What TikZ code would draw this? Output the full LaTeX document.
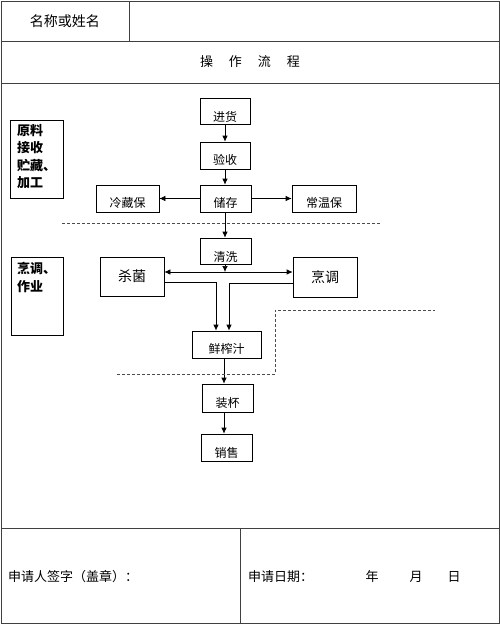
\documentclass[tikz,border=0pt]{standalone}
\usepackage{fontspec}
\setmainfont{Noto Sans CJK SC}
\usetikzlibrary{arrows.meta}
\begin{document}
\begin{tikzpicture}[x=1pt,y=-1pt,
  frame/.style={draw=black!75, line width=1pt},
  fbox/.style={draw, line width=0.7pt, inner sep=0pt},
  ftext/.style={inner sep=0pt, font=\fontsize{12}{14}\selectfont},
  big/.style={inner sep=0pt, font=\fontsize{14}{16}\selectfont},
  arr/.style={-{Latex[length=6pt,width=5.5pt]}, line width=0.7pt},
  ln/.style={line width=0.7pt},
  dash line/.style={draw=black!70, line width=0.7pt, dash pattern=on 3pt off 2pt}]
\useasboundingbox (0,0) rectangle (500,625);
% table frame
\draw[frame] (1,1) rectangle (499,623);
\draw[frame] (1,41) -- (499,41);
\draw[frame] (1,83) -- (499,83);
\draw[frame] (1,528) -- (499,528);
\draw[frame] (129,1) -- (129,41);
\draw[frame] (240,528) -- (240,623);
\node[big] (name) at (65,21) {名称或姓名};
\node[inner sep=0pt, font=\fontsize{13}{15}\selectfont] (title) at (250,62) {操\hspace{16pt}作\hspace{16pt}流\hspace{16pt}程};
\node[inner sep=0pt, anchor=west, font=\fontsize{13}{15}\selectfont] (sign) at (8,577) {申请人签字（盖章）：};
\node[inner sep=0pt, anchor=west, font=\fontsize{13}{15}\selectfont] (date) at (248,577) {申请日期：};
\node[inner sep=0pt, font=\fontsize{13}{15}\selectfont] (yr) at (372,577) {年};
\node[inner sep=0pt, font=\fontsize{13}{15}\selectfont] (mo) at (416,577) {月};
\node[inner sep=0pt, font=\fontsize{13}{15}\selectfont] (dy) at (454,577) {日};
% side boxes
\node[fbox, minimum width=53pt, minimum height=78pt] (s1) at (36.5,159) {};
\node[inner sep=0pt, anchor=north west, align=left, font=\fontsize{13}{17.5}\selectfont\bfseries] (s1t) at (17,124) {原料\\接收\\贮藏、\\加工};
\node[fbox, minimum width=52pt, minimum height=78pt] (s2) at (37,296) {};
\node[inner sep=0pt, anchor=north west, align=left, font=\fontsize{13}{17.5}\selectfont\bfseries] (s2t) at (17,262) {烹调、\\作业};
% flow boxes
\node[fbox, minimum width=50pt, minimum height=26pt] (jh) at (225,111) {};
\node[fbox, minimum width=50pt, minimum height=27pt] (ys) at (225,155.5) {};
\node[fbox, minimum width=51pt, minimum height=27pt] (cc) at (225.5,198.5) {};
\node[fbox, minimum width=63pt, minimum height=27pt] (lc) at (127.5,198.5) {};
\node[fbox, minimum width=64pt, minimum height=27pt] (cw) at (324,198.5) {};
\node[fbox, minimum width=51pt, minimum height=26pt] (qx) at (225.5,251) {};
\node[fbox, minimum width=64pt, minimum height=39pt] (sj) at (132,276.5) {};
\node[fbox, minimum width=64pt, minimum height=40pt] (pt) at (325,277) {};
\node[fbox, minimum width=69pt, minimum height=27pt] (zz) at (226.5,344.5) {};
\node[fbox, minimum width=51pt, minimum height=28pt] (zb) at (227.5,398) {};
\node[fbox, minimum width=51pt, minimum height=27pt] (xs) at (226.5,447.5) {};
% flow texts
\node[ftext] (jht) at ([yshift=-6pt]jh.center) {进货};
\node[ftext] (yst) at ([yshift=-4.5pt]ys.center) {验收};
\node[ftext] (cct) at ([yshift=-4.5pt]cc.center) {储存};
\node[ftext] (lct) at ([yshift=-4.5pt]lc.center) {冷藏保};
\node[ftext] (cwt) at ([yshift=-4.5pt]cw.center) {常温保};
\node[ftext] (qxt) at ([yshift=-6pt]qx.center) {清洗};
\node[big] (sjt) at (sj.center) {杀菌};
\node[big] (ptt) at (pt.center) {烹调};
\node[ftext] (zzt) at ([yshift=-4.5pt]zz.center) {鲜榨汁};
\node[ftext] (zbt) at ([yshift=-5pt]zb.center) {装杯};
\node[ftext] (xst) at ([yshift=-5pt]xs.center) {销售};
% connectors
\coordinate (jn) at (225,272);
\draw[arr] (jh.south) -- (ys.north);
\draw[arr] (ys.south) -- (ys.south |- cc.north);
\draw[arr] (cc.west) -- (lc.east);
\draw[arr] (cc.east) -- (cw.west);
\draw[arr] (cc.south -| ys.south) -- (ys.south |- qx.north);
\draw[arr] (qx.south -| ys.south) -- (jn);
\draw[arr] (jn) -- (jn -| sj.east);
\draw[arr] (jn) -- (jn -| pt.west);
\draw[arr, line width=0.9pt] ([yshift=-5.5pt]sj.east) -| ([xshift=-10.5pt]zz.north);
\draw[arr, line width=0.9pt] ([yshift=-6pt]pt.west) -| ([xshift=2.5pt]zz.north);
\draw[arr] (zz.south -| 224,0) -- (zb.north -| 224,0);
\draw[arr] (zb.south -| 224,0) -- (xs.north -| 224,0);
% dashed separators
\draw[dash line] (62,223) -- (380,223);
\draw[dash line] (117,374) -- (275,374) -- (275,310) -- (435,310);
\end{tikzpicture}
\end{document}
